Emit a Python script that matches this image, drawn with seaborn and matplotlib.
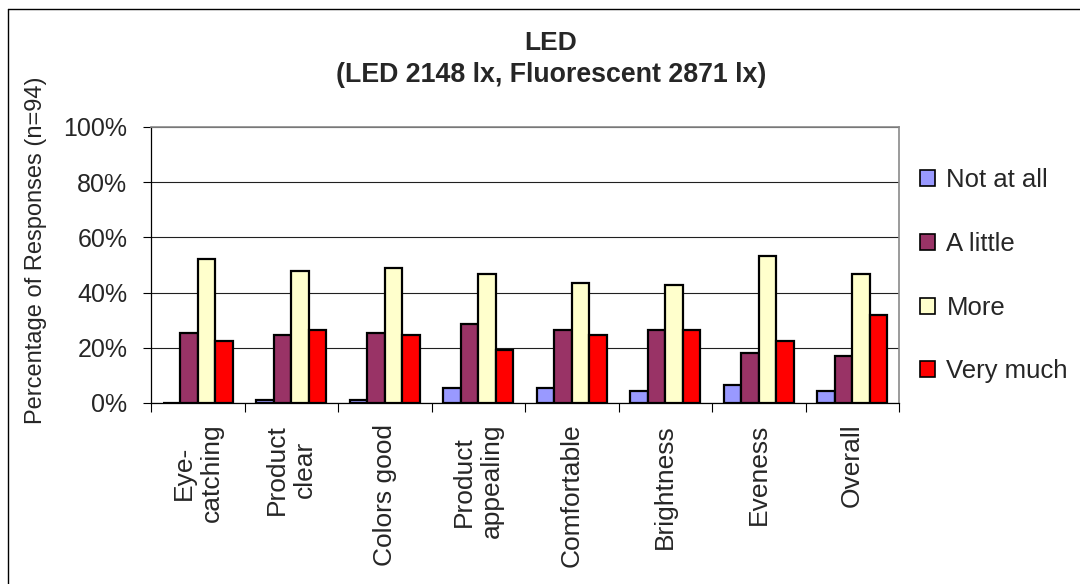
import matplotlib
matplotlib.use("Agg")
import matplotlib.pyplot as plt
from matplotlib.lines import Line2D
from matplotlib.patches import Patch
from matplotlib.ticker import FixedLocator, FuncFormatter
import numpy as np
import pandas as pd
import seaborn as sns

# Survey attributes (x categories)
categories = ["Eye-\ncatching", "Product\nclear", "Colors good", "Product\nappealing",
              "Comfortable", "Brightness", "Eveness", "Overall"]

# Response levels and their share of responses (%), n=94
levels = ["Not at all", "A little", "More", "Very much"]
not_at_all = [0.0, 1.1, 1.1, 5.3, 5.3, 4.3, 6.4, 4.3]
a_little = [25.5, 24.5, 25.5, 28.7, 26.6, 26.6, 18.1, 17.0]
more = [52.1, 47.9, 48.9, 46.8, 43.6, 42.6, 53.2, 46.8]
very_much = [22.3, 26.6, 24.5, 19.1, 24.5, 26.6, 22.3, 31.9]

colors = ["#9999FF", "#993366", "#FFFFCC", "#FF0000"]
y_ticks = [0, 20, 40, 60, 80, 100]

series = [not_at_all, a_little, more, very_much]
df = pd.DataFrame({
    "category": np.repeat([categories], len(levels), axis=0).ravel(),
    "level": np.repeat(levels, len(categories)),
    "value": np.concatenate(series),
})

sns.set_theme(style="white")
plt.rcParams["font.family"] = ["Liberation Sans", "DejaVu Sans"]

W, H = 1080, 584
fig = plt.figure(figsize=(W / 100, H / 100), dpi=100)
ax = fig.add_axes([151 / W, 1 - 403 / H, (899 - 151) / W, (403 - 127) / H])

sns.barplot(data=df, x="category", y="value", hue="level", order=categories,
            hue_order=levels, palette=colors, width=0.75, gap=0,
            edgecolor="black", linewidth=1.6, saturation=1, legend=False,
            ax=ax, zorder=3)

ax.set_xlim(-0.5, len(categories) - 0.5)
ax.set_ylim(0, 100)
ax.yaxis.set_major_locator(FixedLocator(y_ticks))
ax.yaxis.set_major_formatter(FuncFormatter(lambda v, _: f"{v:.0f}%"))
ax.set_axisbelow(True)
ax.grid(axis="y", color="#202020", linewidth=0.8)
ax.grid(axis="x", visible=False)

ax.tick_params(axis="y", which="major", direction="out", length=6, width=0.8,
               color="black", pad=11, labelsize=18, left=True)
ax.set_xticks(range(len(categories)))
ax.set_xticklabels(categories, rotation=90, ha="center", va="top",
                   multialignment="center", fontsize=19)
ax.tick_params(axis="x", which="major", length=0, pad=15)
ax.set_xticks(np.arange(-0.5, len(categories)), minor=True)
ax.tick_params(axis="x", which="minor", direction="out", length=6.5,
               width=0.8, color="black", bottom=True)

for side in ("left", "bottom"):
    ax.spines[side].set_color("black")
    ax.spines[side].set_linewidth(0.9)
for side in ("top", "right"):
    ax.spines[side].set_color("#8a8a8a")
    ax.spines[side].set_linewidth(1.2)

ax.set_xlabel("")
ax.set_ylabel("Percentage of Responses (n=94)", fontsize=17)
ax.yaxis.set_label_coords(47 / W, 1 - 250 / H, transform=fig.transFigure)

fig.text(551 / W, 1 - 43 / H, "LED", ha="center", va="center",
         fontsize=19, fontweight="bold")
fig.text(551 / W, 1 - 75 / H, "(LED 2148 lx, Fluorescent 2871 lx)",
         ha="center", va="center", fontsize=19.3, fontweight="bold")

handles = [Patch(facecolor=c, edgecolor="black", linewidth=1.2) for c in colors]
fig.legend(handles, levels, loc="upper left",
           bbox_to_anchor=(920 / W, 1 - 168 / H), frameon=False, fontsize=18.5,
           handlelength=0.58, handleheight=0.58, handletextpad=0.45,
           labelspacing=1.55, borderpad=0, borderaxespad=0)

# Outer chart frame (left and top edges)
fig.add_artist(Line2D([8 / W, 8 / W], [0, 1 - 9 / H], transform=fig.transFigure,
                      color="black", linewidth=1))
fig.add_artist(Line2D([8 / W, 1], [1 - 9 / H, 1 - 9 / H], transform=fig.transFigure,
                      color="black", linewidth=1))

fig.savefig("out.png", dpi=100)
